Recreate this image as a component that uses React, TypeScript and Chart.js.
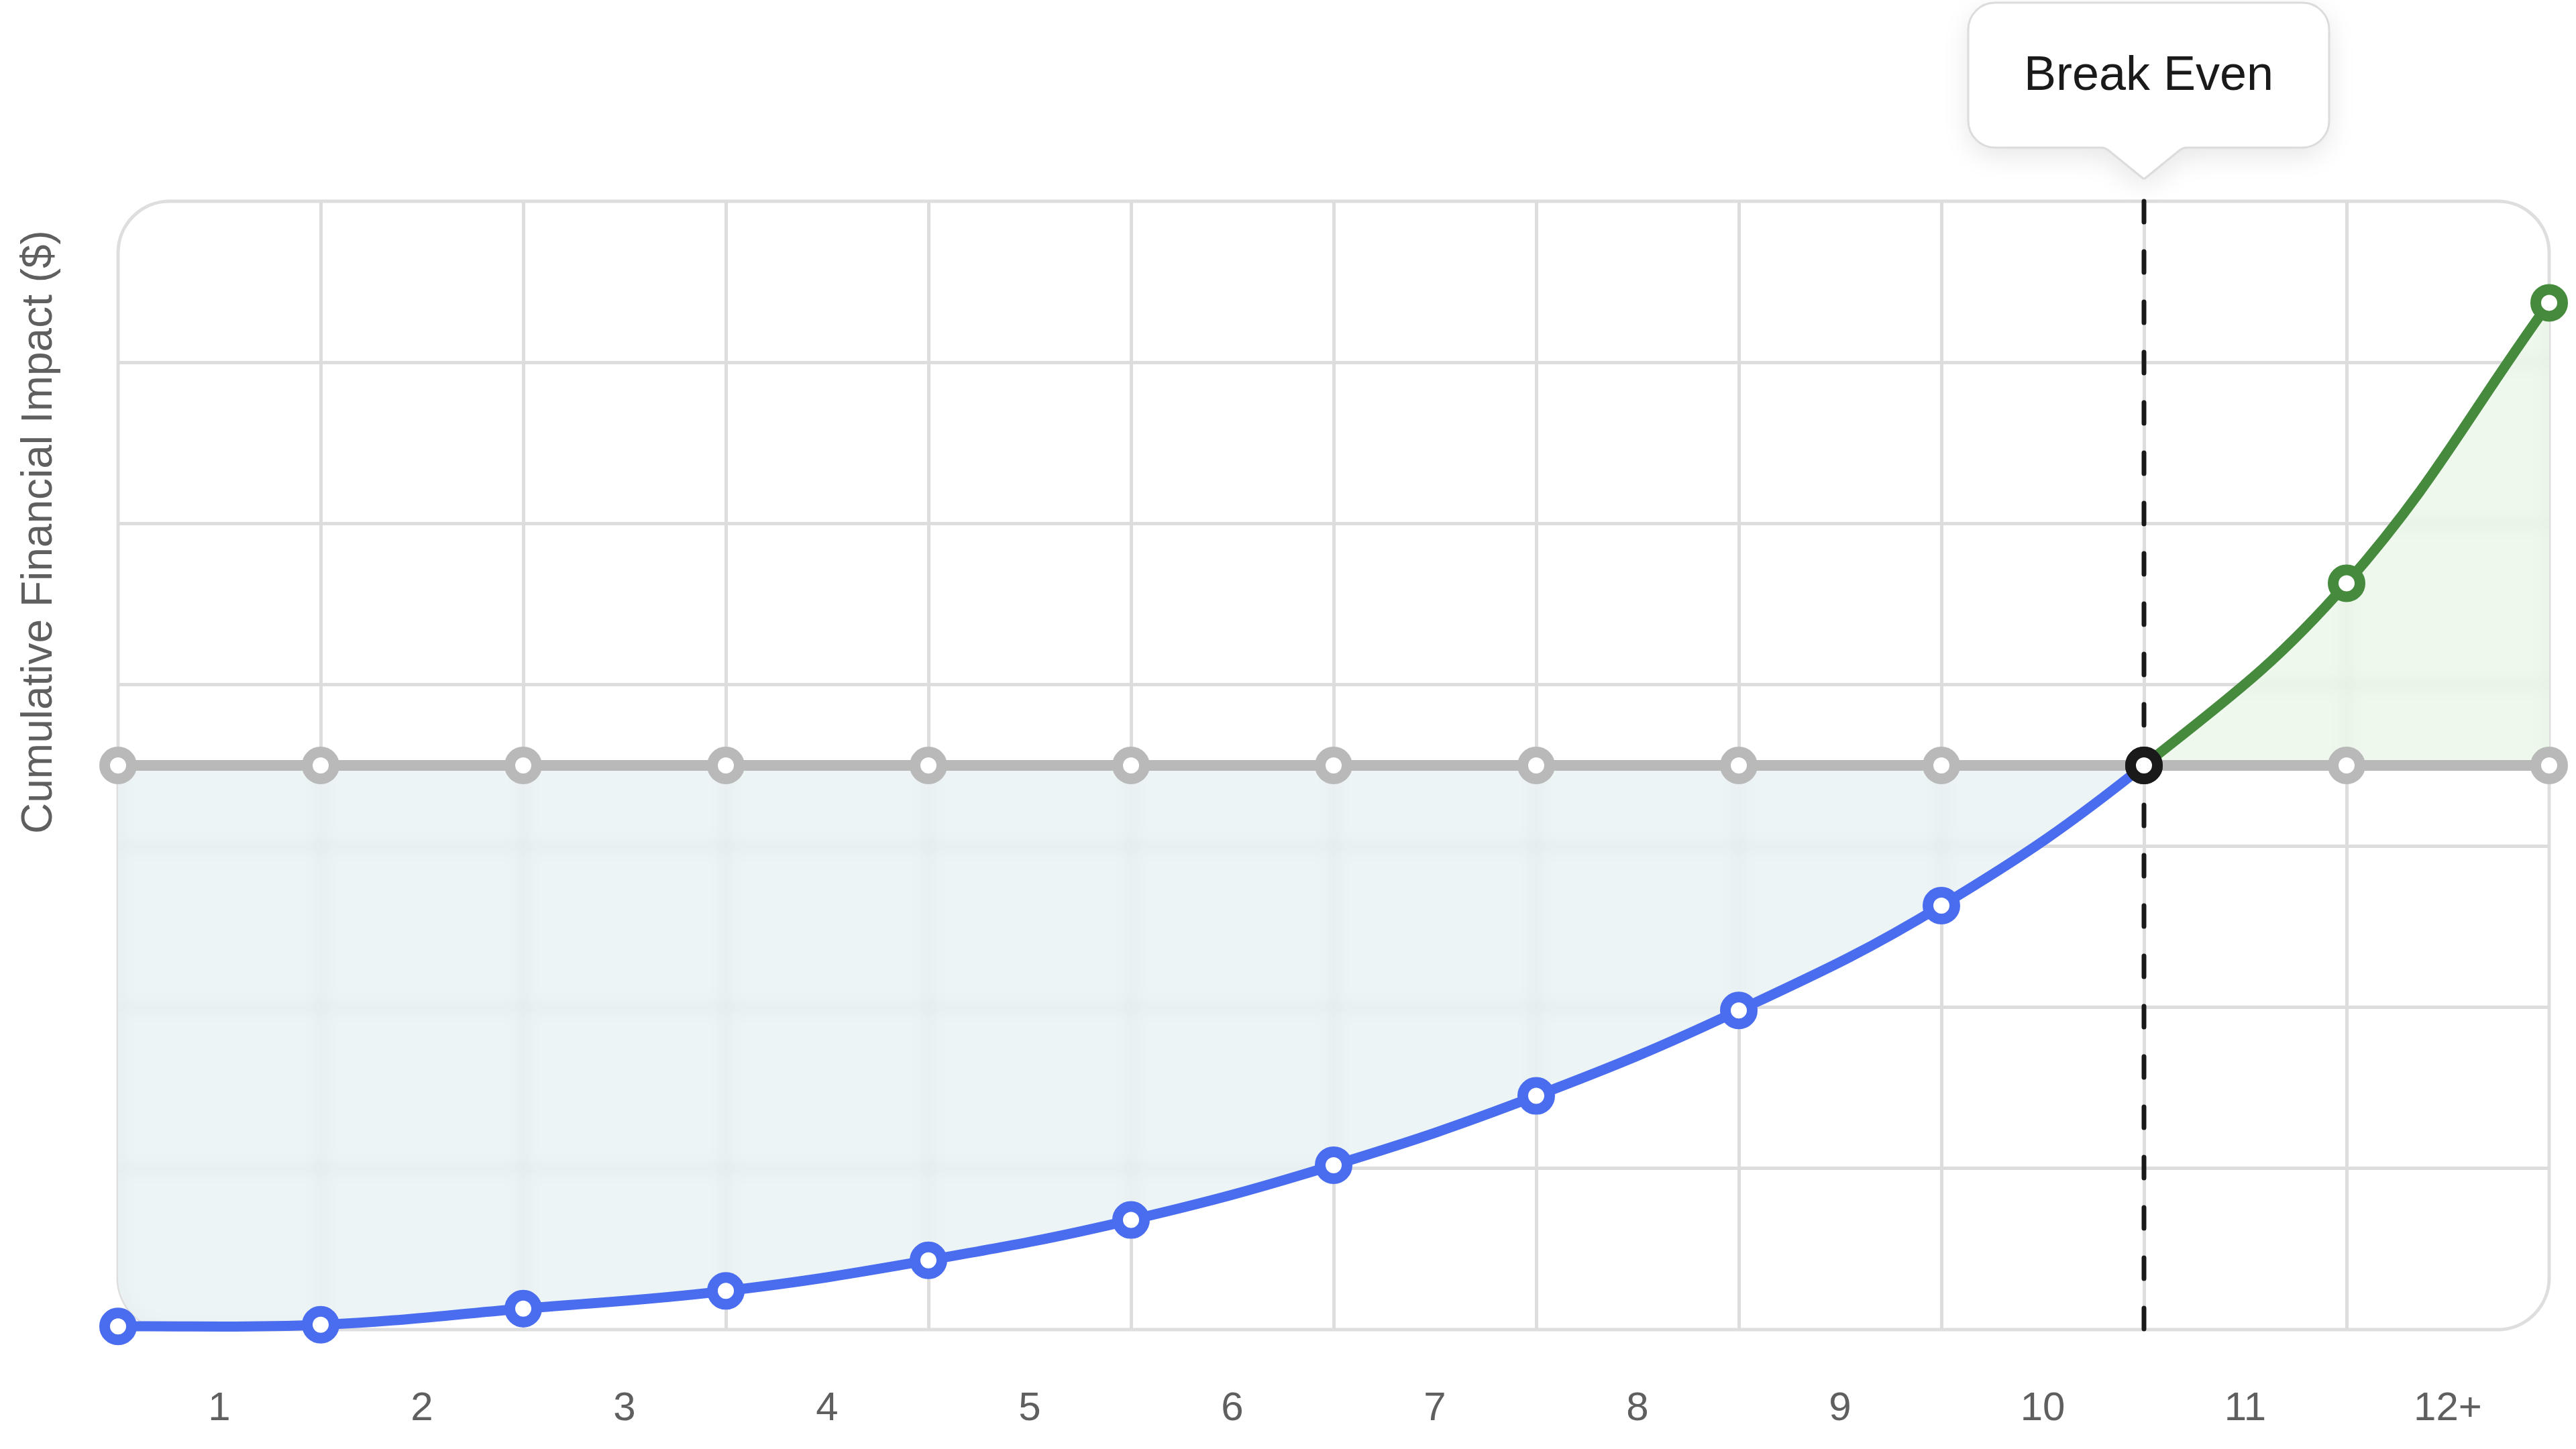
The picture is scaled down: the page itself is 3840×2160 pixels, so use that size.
import React, { useEffect, useRef } from 'react';
import { Chart, registerables } from 'chart.js';

// ---------- data ----------
const periodLabels = ['1', '2', '3', '4', '5', '6', '7', '8', '9', '10', '11', '12+'];
const investmentCurve = [-34.8, -34.7, -33.7, -32.6, -30.7, -28.2, -24.8, -20.5, -15.2, -8.7, 0];
const returnCurve = [11.3, 28.7];
const baselineValues = [0, 0, 0, 0, 0, 0, 0, 0, 0, 0, 0, 0, 0];
const breakEvenIndex = 10;
const yGridTicks = [-35, -25, -15, -5, 5, 15, 25, 35];
const yMin = -35;
const yMax = 35;
const yAxisTitle = 'Cumulative Financial Impact ($)';
const breakEvenLabel = 'Break Even';

// ---------- styles ----------
const FONT = '"Liberation Sans", Arial, Helvetica, sans-serif';
const BLUE = '#4a6cee';
const GREEN = '#458a3d';
const GRAY_LINE = '#b9b9b9';
const BLACK = '#1a1a1a';
const GRID = '#dddddd';
const TEXT = '#5f5f5f';
const BLUE_AREA = 'rgba(213,231,235,0.45)';
const GREEN_AREA = 'rgba(217,239,213,0.45)';
const CORNER = 77;
const FILL_IDX = 4;
const TENSION = 0.4;

function roundRectPath(ctx: CanvasRenderingContext2D, l: number, t: number, r: number, b: number, rad: number) {
  ctx.beginPath();
  ctx.moveTo(l + rad, t);
  ctx.lineTo(r - rad, t);
  ctx.arcTo(r, t, r, t + rad, rad);
  ctx.lineTo(r, b - rad);
  ctx.arcTo(r, b, r - rad, b, rad);
  ctx.lineTo(l + rad, b);
  ctx.arcTo(l, b, l, b - rad, rad);
  ctx.lineTo(l, t + rad);
  ctx.arcTo(l, t, l + rad, t, rad);
  ctx.closePath();
}

const decorPlugin: any = {
  id: 'breakEvenDecor',
  beforeDraw(chart: any) {
    const { ctx, width, height } = chart;
    ctx.save();
    ctx.fillStyle = '#ffffff';
    ctx.fillRect(0, 0, width, height);
    ctx.restore();
  },
  beforeDatasetsDraw(chart: any) {
    const { ctx, chartArea: a } = chart;
    ctx.save();
    ctx.strokeStyle = '#dedede';
    ctx.lineWidth = 5;
    roundRectPath(ctx, a.left, a.top, a.right, a.bottom, CORNER);
    ctx.stroke();
    ctx.restore();
    // frosted blur beneath the filled area (follows the dataset's own spline)
    const y0 = chart.scales.y.getPixelForValue(0);
    const pts = chart.getDatasetMeta(FILL_IDX).data;
    if (pts && pts.length) {
      ctx.save();
      roundRectPath(ctx, a.left, a.top, a.right, a.bottom, CORNER);
      ctx.clip();
      ctx.beginPath();
      ctx.moveTo(pts[0].x, pts[0].y);
      for (let i = 1; i < pts.length; i++) {
        const p = pts[i];
        const q = pts[i - 1];
        if (q.cp2x !== undefined && p.cp1x !== undefined) {
          ctx.bezierCurveTo(q.cp2x, q.cp2y, p.cp1x, p.cp1y, p.x, p.y);
        } else {
          ctx.lineTo(p.x, p.y);
        }
      }
      ctx.lineTo(pts[pts.length - 1].x, y0);
      ctx.lineTo(pts[0].x, y0);
      ctx.closePath();
      ctx.clip();
      ctx.filter = 'blur(10px)';
      ctx.drawImage(chart.canvas, 0, 0);
      ctx.restore();
    }
  },
  beforeDatasetDraw(chart: any, args: any) {
    if (args.index === FILL_IDX) {
      const { ctx, chartArea: a } = chart;
      ctx.save();
      roundRectPath(ctx, a.left, a.top, a.right, a.bottom, CORNER);
      ctx.clip();
    }
  },
  afterDatasetDraw(chart: any, args: any) {
    if (args.index === FILL_IDX) {
      chart.ctx.restore();
    }
  },
  afterDraw(chart: any) {
    const { ctx } = chart;
    ctx.save();
    ctx.translate(59, 793);
    ctx.rotate(-Math.PI / 2);
    ctx.font = `64px ${FONT}`;
    ctx.fillStyle = TEXT;
    ctx.textAlign = 'center';
    ctx.textBaseline = 'middle';
    ctx.fillText(yAxisTitle, 0, 0);
    ctx.restore();

    const tipX = chart.scales.x.getPixelForValue(breakEvenIndex);
    const L = tipX - 262;
    const R = tipX + 276;
    const T = 4;
    const B = 220;
    const r = 40;
    const aw = 58;
    const tipY = 267;
    ctx.save();
    ctx.beginPath();
    ctx.moveTo(L + r, T);
    ctx.lineTo(R - r, T);
    ctx.arcTo(R, T, R, T + r, r);
    ctx.lineTo(R, B - r);
    ctx.arcTo(R, B, R - r, B, r);
    ctx.arcTo(tipX + aw, B, tipX, tipY, 18);
    ctx.arcTo(tipX, tipY, tipX - aw, B, 3);
    ctx.arcTo(tipX - aw, B, L + r, B, 18);
    ctx.lineTo(L + r, B);
    ctx.arcTo(L, B, L, B - r, r);
    ctx.lineTo(L, T + r);
    ctx.arcTo(L, T, L + r, T, r);
    ctx.closePath();
    ctx.shadowColor = 'rgba(0,0,0,0.10)';
    ctx.shadowBlur = 40;
    ctx.shadowOffsetY = 12;
    ctx.fillStyle = '#ffffff';
    ctx.fill();
    ctx.shadowColor = 'transparent';
    ctx.lineWidth = 3;
    ctx.strokeStyle = '#dcdcdc';
    ctx.stroke();
    ctx.font = `72px ${FONT}`;
    ctx.fillStyle = BLACK;
    ctx.textAlign = 'center';
    ctx.textBaseline = 'middle';
    ctx.fillText(breakEvenLabel, (L + R) / 2, (T + B) / 2 + 2);
    ctx.restore();
  },
};

Chart.register(decorPlugin);
Chart.register(...registerables);

const xTickValues: number[] = [];
for (let i = 0; i <= periodLabels.length; i++) {
  xTickValues.push(i);
  if (i < periodLabels.length) xTickValues.push(i + 0.5);
}

export default function App() {
  const ref = useRef<HTMLCanvasElement>(null);

  useEffect(() => {
    if (!ref.current) return;
    const cumulative = [...investmentCurve, ...returnCurve];
    const curveData = cumulative.map((y, i) => ({ x: i, y }));
    const grayData = baselineValues.map((y, i) => ({ x: i, y }));
    const isReturn = (c: any) => c.p0.parsed.x >= breakEvenIndex;
    const pointColors = cumulative.map((_, i) => (i < breakEvenIndex ? BLUE : i === breakEvenIndex ? BLACK : GREEN));

    const chart = new Chart(ref.current, {
      type: 'line',
      data: {
        datasets: [
          {
            label: 'Break even',
            data: [{ x: breakEvenIndex, y: 0 }],
            showLine: false,
            order: 0,
            clip: false,
            pointRadius: 20,
            pointBorderWidth: 16,
            pointBorderColor: BLACK,
            pointBackgroundColor: '#ffffff',
          },
          {
            label: 'Cumulative impact',
            data: curveData,
            borderColor: BLUE,
            borderWidth: 15,
            tension: TENSION,
            segment: { borderColor: (c: any) => (isReturn(c) ? GREEN : BLUE) },
            fill: false,
            order: 1,
            clip: false,
            pointRadius: 20,
            pointBorderWidth: 16,
            pointBorderColor: pointColors,
            pointBackgroundColor: '#ffffff',
          },
          {
            label: 'Break even marker',
            data: [
              { x: breakEvenIndex, y: yMax },
              { x: breakEvenIndex, y: yMin },
            ],
            borderColor: BLACK,
            borderWidth: 7,
            borderDash: [31, 44],
            borderCapStyle: 'round',
            pointRadius: 0,
            fill: false,
            order: 2,
            clip: false,
          },
          {
            label: 'Baseline',
            data: grayData,
            borderColor: GRAY_LINE,
            borderWidth: 16,
            fill: false,
            order: 3,
            clip: false,
            pointRadius: 20,
            pointBorderWidth: 16,
            pointBorderColor: GRAY_LINE,
            pointBackgroundColor: '#ffffff',
          },
          {
            label: 'Impact area',
            data: curveData,
            borderWidth: 0,
            borderColor: 'rgba(0,0,0,0)',
            pointRadius: 0,
            tension: TENSION,
            fill: 'origin',
            backgroundColor: BLUE_AREA,
            segment: { backgroundColor: (c: any) => (isReturn(c) ? GREEN_AREA : BLUE_AREA) },
            order: 4,
          },
        ],
      } as any,
      options: {
        responsive: false,
        animation: false,
        devicePixelRatio: 1,
        events: [],
        layout: { padding: { left: 176, right: 40, top: 300, bottom: 24 } },
        plugins: {
          legend: { display: false },
          tooltip: { enabled: false },
          title: { display: false },
        },
        scales: {
          x: {
            type: 'linear',
            min: 0,
            max: periodLabels.length,
            afterBuildTicks: (scale: any) => {
              scale.ticks = xTickValues.map((v) => ({ value: v }));
            },
            afterFit: (scale: any) => {
              scale.height = 154;
              scale.paddingLeft = 0;
              scale.paddingRight = 0;
            },
            grid: {
              drawTicks: false,
              lineWidth: 5,
              color: (c: any) => {
                const v = c.tick ? c.tick.value : -1;
                return Number.isInteger(v) && v > 0 && v < periodLabels.length ? GRID : 'rgba(0,0,0,0)';
              },
            },
            border: { display: false },
            ticks: {
              autoSkip: false,
              maxRotation: 0,
              minRotation: 0,
              padding: 82,
              color: TEXT,
              font: { size: 60, family: FONT },
              callback: (v: any) => {
                const n = Number(v);
                return Number.isInteger(n) ? '' : periodLabels[Math.floor(n)];
              },
            },
          },
          y: {
            type: 'linear',
            min: yMin,
            max: yMax,
            afterBuildTicks: (scale: any) => {
              scale.ticks = yGridTicks.map((v) => ({ value: v }));
            },
            grid: {
              drawTicks: false,
              lineWidth: 5,
              color: (c: any) => {
                const v = c.tick ? c.tick.value : yMin;
                return v === yMin || v === yMax ? 'rgba(0,0,0,0)' : GRID;
              },
            },
            border: { display: false },
            ticks: { display: false },
          },
        },
      } as any,
    });
    return () => chart.destroy();
  }, []);

  return (
    <div style={{ position: 'fixed', left: 0, top: 0, width: 3840, height: 2160, background: '#ffffff' }}>
      <canvas ref={ref} width={3840} height={2160} style={{ display: 'block', width: 3840, height: 2160 }} />
    </div>
  );
}
